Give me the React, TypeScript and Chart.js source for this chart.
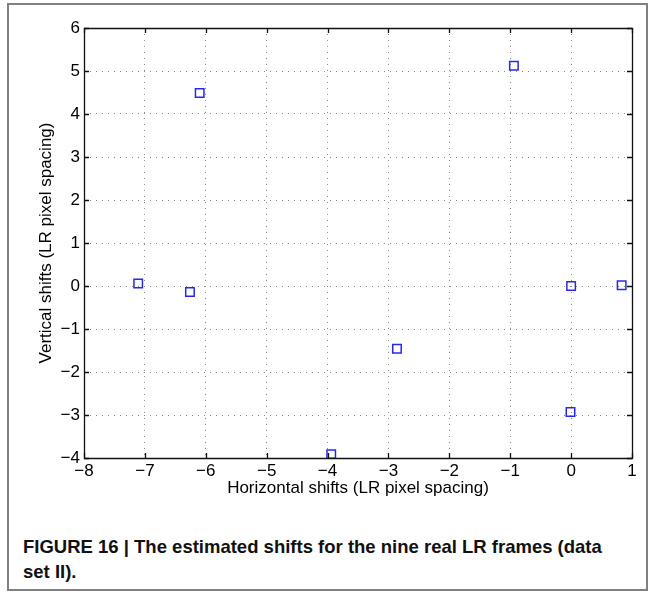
import React, { useEffect, useRef } from "react";
import { Chart, registerables } from "chart.js";

Chart.register(...registerables);

const xShifts = [-7.11, -6.26, -6.1, -3.94, -2.86, -0.94, 0.0, 0.83, -0.01];
const yShifts = [0.06, -0.14, 4.49, -3.91, -1.46, 5.12, 0.0, 0.02, -2.93];
const xTickValues = [-8, -7, -6, -5, -4, -3, -2, -1, 0, 1];
const yTickValues = [-4, -3, -2, -1, 0, 1, 2, 3, 4, 5, 6];
const xTitle = "Horizontal shifts (LR pixel spacing)";
const yTitle = "Vertical shifts (LR pixel spacing)";
const captionLine1 = "FIGURE 16 | The estimated shifts for the nine real LR frames (data";
const captionLine2 = "set II).";

const fmt = (v: number) => (v < 0 ? "\u2212" + Math.abs(v) : String(v));
const FONT = "'Liberation Sans', Arial, Helvetica, sans-serif";

const boxPlugin = {
  id: "matlabBox",
  afterDraw(chart: any) {
    const { ctx, chartArea } = chart;
    const { left, top, right, bottom } = chartArea;
    const xs = chart.scales.x;
    const ys = chart.scales.y;
    ctx.save();
    ctx.strokeStyle = "#111";
    ctx.lineWidth = 1.3;
    ctx.beginPath();
    ctx.rect(Math.round(left) + 0.5, Math.round(top) + 0.5, Math.round(right - left), Math.round(bottom - top));
    ctx.stroke();
    const tl = 5;
    ctx.beginPath();
    xTickValues.forEach((v) => {
      const px = Math.round(xs.getPixelForValue(v)) + 0.5;
      ctx.moveTo(px, bottom);
      ctx.lineTo(px, bottom - tl);
      ctx.moveTo(px, top);
      ctx.lineTo(px, top + tl);
    });
    yTickValues.forEach((v) => {
      const py = Math.round(ys.getPixelForValue(v)) + 0.5;
      ctx.moveTo(left, py);
      ctx.lineTo(left + tl, py);
      ctx.moveTo(right, py);
      ctx.lineTo(right - tl, py);
    });
    ctx.stroke();
    ctx.restore();
  },
};

export default function App() {
  const ref = useRef<HTMLCanvasElement | null>(null);
  useEffect(() => {
    if (!ref.current) return;
    const chart = new Chart(ref.current, {
      type: "scatter",
      data: {
        datasets: [
          {
            data: xShifts.map((x, i) => ({ x, y: yShifts[i] })),
            pointStyle: "rect",
            pointRadius: 6,
            pointBorderWidth: 1.5,
            pointBorderColor: "rgb(40,40,235)",
            pointBackgroundColor: "rgba(0,0,0,0)",
            clip: false as any,
          },
        ],
      },
      options: {
        animation: false,
        responsive: false,
        layout: { padding: { left: 0, top: 28, right: 23, bottom: 0 } },
        plugins: { legend: { display: false }, tooltip: { enabled: false } },
        scales: {
          x: {
            type: "linear",
            min: -8,
            max: 1,
            afterFit: (s: any) => {
              s.height = 42;
            },
            afterBuildTicks: (s: any) => {
              s.ticks = xTickValues.map((v) => ({ value: v }));
            },
            ticks: {
              callback: (v: any) => fmt(Number(v)),
              color: "#000",
              font: { family: FONT, size: 17 },
              padding: 3,
              maxRotation: 0,
              autoSkip: false,
            },
            grid: { color: "#8a8a8a", lineWidth: 1, drawTicks: false },
            border: { display: false, dash: [1, 5] },
            title: {
              display: true,
              text: xTitle,
              color: "#000",
              font: { family: FONT, size: 17 },
              padding: { top: 0, bottom: 1 },
            },
          },
          y: {
            type: "linear",
            min: -4,
            max: 6,
            afterFit: (s: any) => {
              s.width = 84;
            },
            afterBuildTicks: (s: any) => {
              s.ticks = yTickValues.map((v) => ({ value: v }));
            },
            ticks: {
              callback: (v: any) => fmt(Number(v)),
              color: "#000",
              font: { family: FONT, size: 17 },
              padding: 4,
              autoSkip: false,
            },
            grid: { color: "#8a8a8a", lineWidth: 1, drawTicks: false },
            border: { display: false, dash: [1, 5] },
            title: {
              display: true,
              text: yTitle,
              color: "#000",
              font: { family: FONT, size: 17 },
              padding: { top: 36, bottom: 0 },
            },
          },
        },
      },
      plugins: [boxPlugin],
    });
    return () => chart.destroy();
  }, []);

  return (
    <div style={{ position: "absolute", left: 0, top: 0, width: 655, height: 596, background: "#fff" }}>
      <div
        style={{
          position: "absolute",
          left: 7,
          top: 3,
          width: 641,
          height: 588,
          boxSizing: "border-box",
          border: "2px solid #808080",
        }}
      />
      <canvas ref={ref} width={655} height={500} style={{ position: "absolute", left: 0, top: 0, width: 655, height: 500 }} />
      <div
        style={{
          position: "absolute",
          left: 23,
          top: 534,
          fontFamily: FONT,
          fontWeight: "bold",
          fontSize: 18.5,
          lineHeight: "25px",
          color: "#111",
          whiteSpace: "nowrap",
        }}
      >
        {captionLine1}
        <br />
        {captionLine2}
      </div>
    </div>
  );
}
